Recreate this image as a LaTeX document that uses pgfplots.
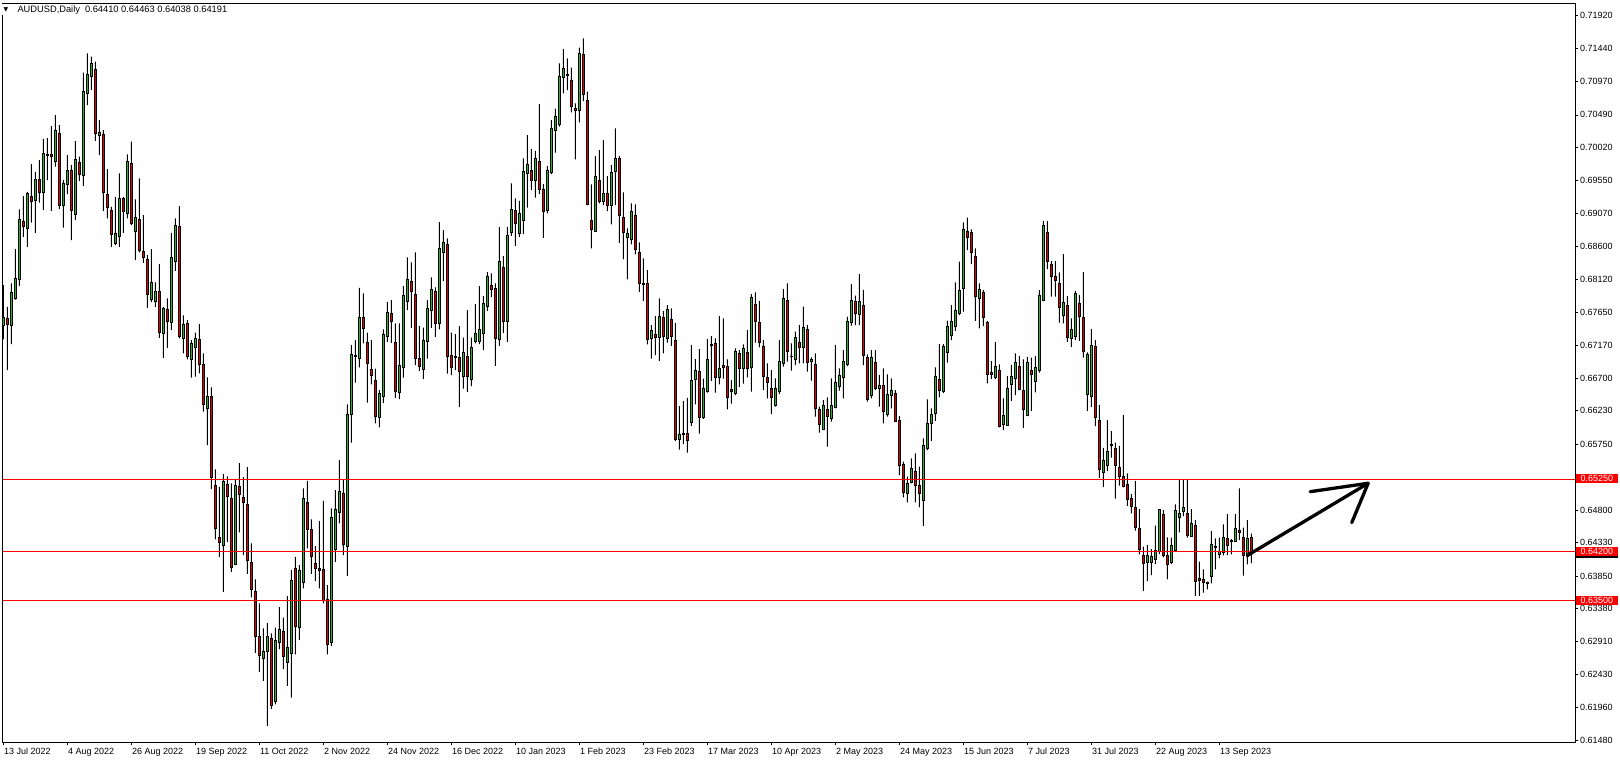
\documentclass[border=0pt]{standalone}
\usepackage{pgfplots}
\pgfplotsset{compat=1.18}
\usepackage{pgfplotstable}
\usepackage{fontspec}
\setmainfont{Liberation Sans}
\newfontfamily\dejavu{DejaVu Sans}
\definecolor{bull}{RGB}{40,180,40}
\definecolor{bear}{RGB}{225,0,0}
\definecolor{lvl}{RGB}{255,0,0}

\pgfplotstableread{
i o h l c
0 0.67453 0.68039 0.67257 0.67573
1 0.67559 0.67727 0.66815 0.67473
2 0.67453 0.68063 0.67189 0.67933
3 0.67847 0.68557 0.67830 0.68135
4 0.68121 0.69129 0.68025 0.68985
5 0.68961 0.69321 0.68735 0.68879
6 0.68850 0.69383 0.68591 0.69359
7 0.69321 0.69781 0.68937 0.69239
8 0.69253 0.69671 0.68793 0.69561
9 0.69561 0.69839 0.69225 0.69369
10 0.69369 0.70146 0.69119 0.69935
11 0.69901 0.70156 0.69551 0.69921
12 0.69921 0.70329 0.69109 0.69887
13 0.69815 0.70487 0.69743 0.70271
14 0.70223 0.70343 0.69133 0.69181
15 0.69181 0.69551 0.68865 0.69503
16 0.69489 0.69911 0.69349 0.69695
17 0.69695 0.69767 0.68687 0.69109
18 0.69052 0.70113 0.68975 0.69853
19 0.69810 0.69887 0.69541 0.69628
20 0.69613 0.71097 0.69465 0.70828
21 0.70799 0.71375 0.70631 0.71077
22 0.71039 0.71327 0.70847 0.71231
23 0.71145 0.71255 0.70117 0.70218
24 0.70189 0.70415 0.69911 0.70237
25 0.70209 0.70271 0.69109 0.69369
26 0.69349 0.69709 0.68999 0.69153
27 0.69119 0.69167 0.68591 0.68769
28 0.68639 0.69311 0.68615 0.68783
29 0.68740 0.69647 0.68591 0.69287
30 0.69287 0.69311 0.68793 0.69095
31 0.69071 0.69921 0.68999 0.69820
32 0.69791 0.70103 0.68903 0.68922
33 0.68812 0.69273 0.68399 0.69013
34 0.68985 0.69575 0.68509 0.68533
35 0.68524 0.69047 0.68361 0.68433
36 0.68409 0.68471 0.67713 0.67905
37 0.67828 0.68557 0.67799 0.68077
38 0.67804 0.68077 0.67727 0.67953
39 0.67948 0.68341 0.67281 0.67353
40 0.67343 0.67727 0.66993 0.67698
41 0.67693 0.67847 0.67137 0.67511
42 0.67497 0.68793 0.67391 0.68437
43 0.68385 0.68999 0.68245 0.68898
44 0.68879 0.69177 0.67271 0.67309
45 0.67271 0.67602 0.67055 0.67473
46 0.67487 0.67535 0.66969 0.67007
47 0.66971 0.67249 0.66707 0.67201
48 0.67139 0.67355 0.66721 0.67273
49 0.67259 0.67479 0.66769 0.66899
50 0.66899 0.67057 0.66217 0.66323
51 0.66265 0.66711 0.65737 0.66438
52 0.66438 0.66567 0.65103 0.65267
53 0.65156 0.65387 0.64379 0.64532
54 0.64407 0.65137 0.64129 0.64335
55 0.64292 0.65319 0.63625 0.65214
56 0.65171 0.65286 0.64345 0.64998
57 0.64969 0.65185 0.63913 0.63971
58 0.64019 0.65233 0.64009 0.65156
59 0.65147 0.65478 0.64479 0.65022
60 0.64988 0.65276 0.64153 0.64911
61 0.64883 0.65420 0.63884 0.64081
62 0.64047 0.64321 0.63543 0.63659
63 0.63630 0.63803 0.62747 0.62977
64 0.62987 0.63457 0.62473 0.62708
65 0.62665 0.63097 0.62343 0.62771
66 0.62761 0.63179 0.61695 0.62982
67 0.62953 0.63025 0.61940 0.61988
68 0.62055 0.63111 0.62003 0.62929
69 0.62891 0.63404 0.62799 0.63083
70 0.63049 0.63255 0.62511 0.62689
71 0.62603 0.63563 0.62271 0.62823
72 0.62737 0.63937 0.62103 0.63793
73 0.63961 0.64129 0.62723 0.63131
74 0.63111 0.64009 0.62934 0.63937
75 0.63755 0.65113 0.63673 0.64969
76 0.64916 0.65223 0.64249 0.64523
77 0.64523 0.64667 0.63884 0.64129
78 0.64033 0.64283 0.63779 0.63961
79 0.63961 0.64643 0.63673 0.63932
80 0.63947 0.64935 0.63457 0.63495
81 0.63515 0.63721 0.62723 0.62867
82 0.62895 0.64825 0.62847 0.64695
83 0.64230 0.65089 0.64057 0.64811
84 0.64767 0.65521 0.64609 0.65070
85 0.65041 0.65233 0.64153 0.64311
86 0.64278 0.66323 0.63855 0.66179
87 0.66179 0.67177 0.65771 0.67043
88 0.67014 0.67249 0.66635 0.67023
89 0.66985 0.68000 0.66855 0.67575
90 0.67575 0.67921 0.67201 0.67417
91 0.67215 0.67355 0.66347 0.66908
92 0.66827 0.67249 0.66611 0.66740
93 0.66671 0.66839 0.66049 0.66150
94 0.66140 0.66527 0.65990 0.66479
95 0.66445 0.67401 0.66345 0.67333
96 0.67295 0.67799 0.67223 0.67645
97 0.67631 0.67823 0.67209 0.67511
98 0.67213 0.67487 0.66417 0.66517
99 0.66493 0.67487 0.66397 0.66887
100 0.66853 0.68025 0.66709 0.67890
101 0.67799 0.68437 0.67679 0.68125
102 0.68097 0.68365 0.67425 0.67943
103 0.67905 0.68509 0.66887 0.66983
104 0.66983 0.67449 0.66801 0.66877
105 0.66834 0.67429 0.66690 0.67242
106 0.67223 0.67823 0.66983 0.67703
107 0.67669 0.68149 0.67425 0.67977
108 0.67953 0.68005 0.67295 0.67487
109 0.67487 0.68946 0.67401 0.68572
110 0.68505 0.68831 0.68101 0.68658
111 0.68625 0.68711 0.66767 0.67007
112 0.67026 0.67357 0.66743 0.66853
113 0.67007 0.67333 0.66815 0.66993
114 0.66997 0.67449 0.66287 0.66805
115 0.66719 0.67285 0.66551 0.67069
116 0.67017 0.67679 0.66503 0.66719
117 0.66681 0.67285 0.66585 0.67141
118 0.67237 0.67765 0.67199 0.67343
119 0.67223 0.68025 0.67189 0.67401
120 0.67343 0.67881 0.67103 0.67775
121 0.67727 0.68226 0.67669 0.68164
122 0.68034 0.68207 0.67871 0.67977
123 0.67991 0.68063 0.66877 0.67266
124 0.67252 0.68874 0.67165 0.68385
125 0.68293 0.68457 0.67353 0.67511
126 0.67511 0.68879 0.67223 0.68749
127 0.68797 0.69503 0.68749 0.69129
128 0.69114 0.69287 0.68605 0.68927
129 0.68778 0.69253 0.68735 0.69076
130 0.68970 0.69863 0.68773 0.69676
131 0.69642 0.70199 0.69153 0.69777
132 0.69690 0.69997 0.69407 0.69546
133 0.69546 0.69973 0.69297 0.69863
134 0.69820 0.70645 0.69349 0.69417
135 0.69417 0.69493 0.68721 0.69095
136 0.69109 0.69757 0.69071 0.69695
137 0.69657 0.70415 0.69637 0.70295
138 0.70266 0.70578 0.69945 0.70468
139 0.70353 0.71231 0.70319 0.71039
140 0.71029 0.71437 0.70799 0.71159
141 0.71073 0.71303 0.70847 0.71063
142 0.70986 0.71169 0.70525 0.70612
143 0.70583 0.70655 0.69849 0.70554
144 0.70549 0.71457 0.70381 0.71375
145 0.71361 0.71591 0.70689 0.70785
146 0.70698 0.70823 0.69191 0.69205
147 0.68970 0.69489 0.68567 0.68841
148 0.68807 0.69897 0.68807 0.69604
149 0.69546 0.69983 0.69215 0.69244
150 0.69239 0.70127 0.69191 0.69359
151 0.69359 0.69609 0.69105 0.69181
152 0.69181 0.69767 0.68913 0.69661
153 0.69676 0.70295 0.69191 0.69863
154 0.69863 0.69897 0.68649 0.69037
155 0.69013 0.69373 0.68409 0.68797
156 0.68721 0.68855 0.68121 0.68783
157 0.68697 0.69215 0.68625 0.69095
158 0.69042 0.69201 0.68481 0.68553
159 0.68505 0.68653 0.67943 0.68063
160 0.68063 0.68423 0.67813 0.68049
161 0.68063 0.68255 0.67185 0.67257
162 0.67271 0.67463 0.66983 0.67386
163 0.67329 0.67593 0.67031 0.67285
164 0.67285 0.67847 0.66949 0.67588
165 0.67573 0.67665 0.67055 0.67295
166 0.67271 0.67751 0.67213 0.67689
167 0.67545 0.67703 0.67165 0.67309
168 0.67247 0.67497 0.65797 0.65826
169 0.65817 0.66297 0.65673 0.65893
170 0.65903 0.66369 0.65749 0.65889
171 0.65903 0.66417 0.65629 0.65802
172 0.66071 0.67175 0.66009 0.66666
173 0.66676 0.66973 0.66321 0.66810
174 0.66791 0.67117 0.65903 0.66143
175 0.66143 0.66695 0.66114 0.66551
176 0.66503 0.67261 0.66493 0.66973
177 0.67185 0.67305 0.66661 0.67170
178 0.67199 0.67271 0.66493 0.66705
179 0.66709 0.67593 0.66609 0.66844
180 0.66882 0.67559 0.66695 0.66853
181 0.66868 0.66969 0.66249 0.66431
182 0.66541 0.66671 0.66335 0.66503
183 0.66479 0.67127 0.66455 0.67079
184 0.67055 0.67103 0.66575 0.66839
185 0.66839 0.67185 0.66623 0.67127
186 0.67071 0.67393 0.66711 0.66841
187 0.66855 0.67911 0.66505 0.67863
188 0.67767 0.67935 0.67211 0.67513
189 0.67503 0.67811 0.67143 0.67211
190 0.67163 0.67249 0.66529 0.66721
191 0.66711 0.66913 0.66409 0.66639
192 0.66553 0.66817 0.66183 0.66423
193 0.66303 0.66697 0.66289 0.66553
194 0.66505 0.67249 0.66471 0.66947
195 0.66913 0.67983 0.66865 0.67849
196 0.67820 0.68065 0.66937 0.67081
197 0.67019 0.67201 0.66807 0.67009
198 0.66971 0.67369 0.66889 0.67287
199 0.67215 0.67465 0.66913 0.67139
200 0.67139 0.67729 0.66913 0.67431
201 0.67403 0.67465 0.66793 0.66927
202 0.66942 0.67000 0.66663 0.66975
203 0.66899 0.67057 0.66145 0.66265
204 0.66251 0.66289 0.65915 0.66035
205 0.65963 0.66385 0.65953 0.66308
206 0.66251 0.66423 0.65713 0.66145
207 0.66121 0.66697 0.66073 0.66308
208 0.66279 0.67177 0.66265 0.66639
209 0.66577 0.66841 0.66519 0.66740
210 0.66711 0.67105 0.66409 0.66942
211 0.66903 0.67585 0.66875 0.67523
212 0.67499 0.68055 0.67455 0.67820
213 0.67806 0.67887 0.67465 0.67633
214 0.67619 0.68199 0.67465 0.67801
215 0.67748 0.67969 0.66889 0.67023
216 0.66999 0.67043 0.66361 0.66395
217 0.66447 0.67105 0.66409 0.66999
218 0.66927 0.67105 0.66529 0.66548
219 0.66553 0.66745 0.66289 0.66601
220 0.66591 0.66841 0.66049 0.66217
221 0.66179 0.66755 0.66145 0.66467
222 0.66452 0.66697 0.66265 0.66524
223 0.66481 0.66529 0.66073 0.66083
224 0.66092 0.66155 0.65305 0.65439
225 0.65463 0.65497 0.64983 0.65055
226 0.65041 0.65281 0.64911 0.65185
227 0.65195 0.65545 0.65185 0.65401
228 0.65358 0.65617 0.64911 0.65161
229 0.65156 0.65425 0.64839 0.65041
230 0.64945 0.65833 0.64575 0.65732
231 0.65689 0.66395 0.65665 0.66049
232 0.66048 0.66264 0.65798 0.66178
233 0.66192 0.66854 0.66086 0.66720
234 0.66682 0.67190 0.66422 0.66518
235 0.66504 0.67190 0.66490 0.67162
236 0.67066 0.67526 0.66922 0.67450
237 0.67310 0.67752 0.67248 0.67522
238 0.67440 0.68078 0.67382 0.67675
239 0.67632 0.68376 0.67608 0.67968
240 0.67987 0.68942 0.67656 0.68842
241 0.68818 0.69010 0.68544 0.68722
242 0.68803 0.68842 0.68342 0.68515
243 0.68458 0.68568 0.67526 0.67872
244 0.67848 0.68064 0.67416 0.67978
245 0.67934 0.67968 0.67450 0.67570
246 0.67502 0.67526 0.66624 0.66754
247 0.66787 0.66946 0.66686 0.66754
248 0.66706 0.67224 0.66686 0.66874
249 0.66816 0.66898 0.65990 0.66000
250 0.66029 0.66408 0.65952 0.66163
251 0.66024 0.66730 0.66019 0.66552
252 0.66610 0.66893 0.66374 0.66725
253 0.66696 0.67056 0.66456 0.66926
254 0.66874 0.67022 0.66528 0.66542
255 0.66523 0.66970 0.65986 0.66254
256 0.66158 0.67008 0.66153 0.66926
257 0.66811 0.66994 0.66230 0.66749
258 0.66648 0.67018 0.66494 0.66859
259 0.66806 0.67968 0.66778 0.67891
260 0.67819 0.68962 0.67810 0.68904
261 0.68798 0.68962 0.68270 0.68376
262 0.68338 0.68386 0.67872 0.68160
263 0.68170 0.68386 0.67872 0.68112
264 0.68064 0.68222 0.67498 0.67718
265 0.67603 0.68486 0.67488 0.67795
266 0.67747 0.67882 0.67224 0.67286
267 0.67272 0.67560 0.67152 0.67406
268 0.67296 0.67958 0.67248 0.67920
269 0.67776 0.67896 0.67238 0.67584
270 0.67574 0.68227 0.66994 0.67080
271 0.66461 0.67070 0.66230 0.67046
272 0.66432 0.67406 0.66288 0.67171
273 0.67162 0.67248 0.66010 0.66134
274 0.66096 0.66312 0.65266 0.65386
275 0.65342 0.65698 0.65136 0.65520
276 0.65438 0.66096 0.65362 0.65645
277 0.65726 0.65938 0.65558 0.65746
278 0.65690 0.65772 0.64965 0.65440
279 0.65416 0.65724 0.65152 0.65282
280 0.65287 0.66170 0.65128 0.65148
281 0.65172 0.65330 0.64860 0.64956
282 0.64965 0.65032 0.64754 0.64860
283 0.64836 0.65220 0.64504 0.64548
284 0.64538 0.64816 0.64164 0.64236
285 0.64149 0.64274 0.63640 0.64034
286 0.64048 0.64298 0.63780 0.64154
287 0.64044 0.64240 0.63866 0.64140
288 0.64092 0.64576 0.64024 0.64221
289 0.64202 0.64812 0.64168 0.64812
290 0.64740 0.64802 0.64120 0.64144
291 0.64149 0.64408 0.63804 0.64020
292 0.64044 0.64404 0.64024 0.64298
293 0.64216 0.64884 0.64202 0.64802
294 0.64692 0.65234 0.64480 0.64754
295 0.64778 0.65234 0.64716 0.64845
296 0.64754 0.65234 0.64404 0.64442
297 0.64428 0.64816 0.64418 0.64615
298 0.64581 0.64658 0.63568 0.63770
299 0.63818 0.64058 0.63568 0.63794
300 0.63808 0.63948 0.63612 0.63756
301 0.63756 0.63770 0.63660 0.63746
302 0.63842 0.64500 0.63746 0.64308
303 0.64284 0.64394 0.63948 0.64264
304 0.64164 0.64404 0.64106 0.64202
305 0.64188 0.64596 0.64149 0.64413
306 0.64394 0.64744 0.64154 0.64288
307 0.64365 0.64384 0.64164 0.64356
308 0.64356 0.64744 0.64346 0.64538
309 0.64509 0.65114 0.64370 0.64476
310 0.64413 0.64548 0.63856 0.64144
311 0.64130 0.64658 0.64020 0.64394
312 0.64410 0.64463 0.64038 0.64191
}\candles

\pgfplotsset{
  mtaxis/.style={
    at={(2.7pt,22pt)}, anchor=south west,
    scale only axis, width=1572.3pt, height=739pt,
    xmin=-0.16, xmax=392.92, ymin=0.61463, ymax=0.72100,
    enlargelimits=false, clip=true,
  }
}

\begin{document}
\begin{tikzpicture}
% wicks
\begin{axis}[mtaxis, hide axis, ybar stacked, bar width=1pt]
\addplot[draw=none, fill=none] table[x=i, y=l] {\candles};
\addplot[draw=none, fill=black] table[x=i, y expr={\thisrow{h}-\thisrow{l}}] {\candles};
\end{axis}
% bodies
\begin{axis}[mtaxis, hide axis, ybar stacked, bar width=2.3pt]
\addplot[draw=none, fill=none] table[x=i, y expr={min(\thisrow{o},\thisrow{c})}] {\candles};
\addplot[draw=black, line width=0.7pt, fill=bull] table[x=i, y expr={max(\thisrow{c}-\thisrow{o},0)}] {\candles};
\addplot[draw=black, line width=0.7pt, fill=bear] table[x=i, y expr={max(\thisrow{o}-\thisrow{c},0)}] {\candles};
\end{axis}
% frame, ticks, levels, arrow
\begin{axis}[mtaxis,
  axis line style={line width=0.9pt, black},
  xtick={0,16,...,304},
  xticklabels={13 Jul 2022,4 Aug 2022,26 Aug 2022,19 Sep 2022,11 Oct 2022,2 Nov 2022,24 Nov 2022,16 Dec 2022,10 Jan 2023,1 Feb 2023,23 Feb 2023,17 Mar 2023,10 Apr 2023,2 May 2023,24 May 2023,15 Jun 2023,7 Jul 2023,31 Jul 2023,22 Aug 2023,13 Sep 2023},
  ytick={0.71920,0.71440,0.70970,0.70490,0.70020,0.69550,0.69070,0.68600,0.68120,0.67650,0.67170,0.66700,0.66230,0.65750,0.64800,0.64330,0.63850,0.63380,0.62910,0.62430,0.61960,0.61480},
  yticklabels={0.71920,0.71440,0.70970,0.70490,0.70020,0.69550,0.69070,0.68600,0.68120,0.67650,0.67170,0.66700,0.66230,0.65750,0.64800,0.64330,0.63850,0.63380,0.62910,0.62430,0.61960,0.61480},
  xtick pos=bottom, ytick pos=right, yticklabel pos=right,
  tick align=outside, major tick length=3pt,
  tick style={black, line width=0.7pt},
  tick label style={font=\fontsize{9}{10}\selectfont, black},
  xticklabel style={anchor=north west, inner sep=0pt, xshift=0.5pt, yshift=-3pt},
  yticklabel style={anchor=west, inner sep=0pt, xshift=2pt},
]
\addplot[lvl, line width=0.8pt] coordinates {(-1,0.6525) (400,0.6525)};
\addplot[lvl, line width=0.8pt] coordinates {(-1,0.6420) (400,0.6420)};
\addplot[lvl, line width=0.8pt] coordinates {(-1,0.6350) (400,0.6350)};
\addplot[black, line width=3.3pt, line cap=round] coordinates {(311.2,0.64155) (341.2,0.65187)};
\addplot[black, line width=3.3pt, line cap=round, line join=round] coordinates {(326.7,0.65066) (341.2,0.65187) (337.1,0.64620)};
\end{axis}
% price boxes on the right
\fill[lvl] (1575.7pt,280.6pt) rectangle (1617.5pt,289.6pt);
\node[anchor=west, inner sep=0pt, text=white, font=\fontsize{9}{10}\selectfont] at (1580.5pt,285.1pt) {0.65250};
\fill[black] (1575.7pt,205.9pt) rectangle (1617.5pt,207.7pt);
\fill[lvl] (1575.7pt,207.65pt) rectangle (1617.5pt,216.65pt);
\node[anchor=west, inner sep=0pt, text=white, font=\fontsize{9}{10}\selectfont] at (1580.5pt,212.15pt) {0.64200};
\fill[lvl] (1575.7pt,159pt) rectangle (1617.5pt,168pt);
\node[anchor=west, inner sep=0pt, text=white, font=\fontsize{9}{10}\selectfont] at (1580.5pt,163.5pt) {0.63500};
% title
\fill[white] (1.8pt,749pt) rectangle (3.8pt,760.4pt);
\node[inner sep=0pt, font=\dejavu\fontsize{6}{6}\selectfont] at (6pt,754pt) {▼};
\node[anchor=west, inner sep=0pt, font=\fontsize{9.3}{10}\selectfont] at (17.3pt,754pt) {AUDUSD,Daily\hspace{5pt}0.64410 0.64463 0.64038 0.64191};
\pgfresetboundingbox
\path (0,0) rectangle (1620pt,764pt);
\end{tikzpicture}
\end{document}
